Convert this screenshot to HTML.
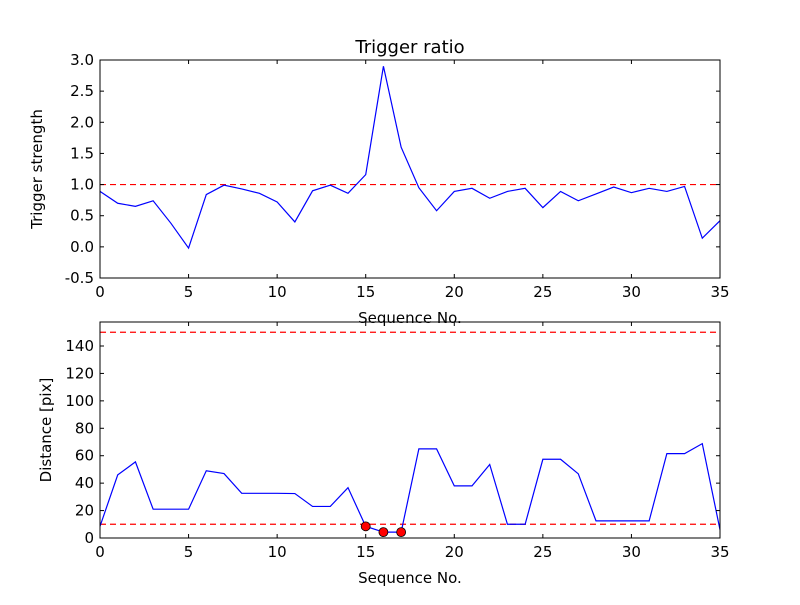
<!DOCTYPE html>
<html><head><meta charset="utf-8"><style>
body{margin:0;background:#fff;}
svg text{font-family:"DejaVu Sans","Liberation Sans",sans-serif;fill:#000;}
</style></head><body>
<svg id="chart" width="800" height="600" xmlns="http://www.w3.org/2000/svg"></svg>
<script>
const seq = Array.from({length:36},(_,i)=>i);
const triggerValues=[0.89,0.70,0.65,0.74,0.38,-0.02,0.84,0.99,0.93,0.86,0.72,0.40,0.90,0.99,0.86,1.16,2.90,1.60,0.95,0.58,0.89,0.94,0.78,0.89,0.94,0.63,0.89,0.74,0.85,0.96,0.87,0.94,0.89,0.97,0.14,0.42];
const distanceValues=[8.5,46,55.5,21,21,21,49,47,32.6,32.6,32.6,32.4,23,23,36.7,8.5,4.3,4.3,65,65,38,38,53.6,10,10,57.4,57.4,46.8,12.5,12.5,12.5,12.5,61.5,61.5,68.8,6];
const flaggedIdx=[15,16,17];
const triggerThreshold=[1.0];
const distanceThresholds=[10,150];
const xTicks=[0,5,10,15,20,25,30,35];
const yTicksTop=[-0.5,0.0,0.5,1.0,1.5,2.0,2.5,3.0];
const yTicksBot=[0,20,40,60,80,100,120,140];

const svg=document.getElementById('chart');
const NS='http://www.w3.org/2000/svg';
function mk(tag,attrs,parent,name){const e=document.createElementNS(NS,tag);for(const k in attrs)e.setAttribute(k,attrs[k]);


(parent||svg).appendChild(e);return e;}
function txt(s,x,y,anchor,size,parent,name,rot){const t=mk('text',{x:x,y:y,'text-anchor':anchor,'font-size':size},parent,name);if(rot)t.setAttribute('transform',`rotate(-90 ${x} ${y})`);t.textContent=s;return t;}

function panel(cfg){
  const g=mk('g',{},svg,cfg.name);
  const L=100,R=720,T=cfg.top,B=cfg.bottom;
  const sx=v=>L+(v-0)/(35-0)*(R-L);
  const sy=v=>B-(v-cfg.ymin)/(cfg.ymax-cfg.ymin)*(B-T);
  cfg.thresholds.forEach((t,i)=>mk('line',{x1:L,x2:R,y1:sy(t),y2:sy(t),stroke:'#ff0000','stroke-width':1.2,'stroke-dasharray':'6,4'},g,'threshold-line-'+i));
  const pts=seq.map((x,i)=>sx(x)+','+sy(cfg.values[i])).join(' ');
  mk('polyline',{points:pts,fill:'none',stroke:'#0000ff','stroke-width':1.2},g,'data-line');
  if(cfg.markers)cfg.markers.forEach(i=>mk('circle',{cx:sx(seq[i]),cy:sy(cfg.values[i]),r:4.5,fill:'#ff0000',stroke:'#000','stroke-width':0.8},g,'flagged-point'));
  mk('rect',{x:L,y:T,width:R-L,height:B-T,fill:'none',stroke:'#000','stroke-width':1},g,'plot-frame');
  xTicks.forEach(v=>{const x=sx(v);
    mk('line',{x1:x,x2:x,y1:B,y2:B-4,stroke:'#000'},g,'x-tick');
    mk('line',{x1:x,x2:x,y1:T,y2:T+4,stroke:'#000'},g,'x-tick');
    txt(String(v),x,B+19,'middle',15,g,'x-tick-label');});
  cfg.yticks.forEach(v=>{const y=sy(v);
    mk('line',{x1:L,x2:L+4,y1:y,y2:y,stroke:'#000'},g,'y-tick');
    mk('line',{x1:R,x2:R-4,y1:y,y2:y,stroke:'#000'},g,'y-tick');
    txt(cfg.fmt(v),L-6,y+5,'end',15,g,'y-tick-label');});
  txt('Sequence No.',410,B+45,'middle',15,g,'x-axis-title');
  txt(cfg.ylabel,cfg.ylx,(T+B)/2,'middle',15,g,'y-axis-title',true);
}
txt('Trigger ratio',410,53,'middle',18,svg,'chart-title');
panel({name:'trigger-panel',top:60,bottom:278,ymin:-0.5,ymax:3.0,values:triggerValues,thresholds:triggerThreshold,yticks:yTicksTop,fmt:v=>v.toFixed(1),ylabel:'Trigger strength',ylx:42});
panel({name:'distance-panel',top:322,bottom:538,ymin:0,ymax:157.5,values:distanceValues,thresholds:distanceThresholds,yticks:yTicksBot,fmt:v=>String(v),ylabel:'Distance [pix]',ylx:51,markers:flaggedIdx});
</script>
</body></html>
